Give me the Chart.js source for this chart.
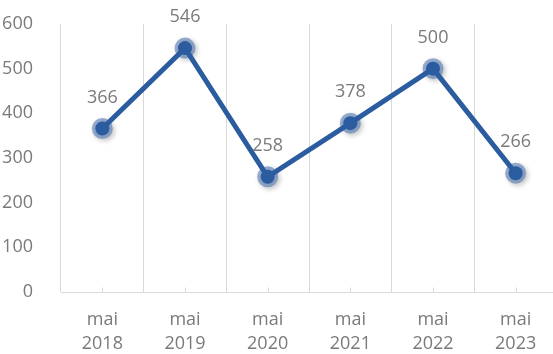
<!DOCTYPE html>
<html>
<head>
<meta charset="utf-8">
<script src="https://cdn.jsdelivr.net/npm/chart.js@4/dist/chart.umd.min.js"></script>
<style>
  html, body { margin: 0; padding: 0; background: #fff; overflow: hidden; }
  #wrap { width: 557px; height: 354px; }
</style>
</head>
<body>
<div id="wrap"><canvas id="c"></canvas></div>
<script>
const months = ['mai', 'mai', 'mai', 'mai', 'mai', 'mai'];
const years = ['2018', '2019', '2020', '2021', '2022', '2023'];
const values = [366, 546, 258, 378, 500, 266];
const yTicks = [0, 100, 200, 300, 400, 500, 600];

const labels = months.map((m, i) => [m, years[i]]);
const textColor = '#7a7a7a';
const gridColor = '#d9d9d9';
const lineColor = '#2a5c9f';
const fontFamily = 'Open Sans';
const fontSize = 18;

// Value labels above each point, and short ticks at category centres
const extras = {
  id: 'extras',
  afterDatasetsDraw(chart) {
    const ctx = chart.ctx;
    const x = chart.scales.x, y = chart.scales.y;
    ctx.save();
    ctx.strokeStyle = gridColor;
    ctx.lineWidth = 1;
    const base = Math.round(y.getPixelForValue(0)) + 0.5;
    values.forEach((v, i) => {
      const px = Math.round(x.getPixelForValue(i)) + 0.5;
      ctx.beginPath();
      ctx.moveTo(px, base);
      ctx.lineTo(px, base - 5);
      ctx.stroke();
    });
    ctx.fillStyle = textColor;
    ctx.font = fontSize + 'px "' + fontFamily + '"';
    ctx.textAlign = 'center';
    ctx.textBaseline = 'middle';
    values.forEach((v, i) => {
      ctx.fillText(String(v), x.getPixelForValue(i), y.getPixelForValue(v) - 31);
    });
    ctx.restore();
  }
};

// Soft shadow behind the markers
const shadow = {
  id: 'shadow',
  beforeDatasetDraw(chart, args) {
    if (args.index === 0) {
      const ctx = chart.ctx;
      ctx.save();
      ctx.shadowColor = 'rgba(0,0,0,0.35)';
      ctx.shadowBlur = 5;
      ctx.shadowOffsetX = 2;
      ctx.shadowOffsetY = 2;
    }
  },
  afterDatasetDraw(chart, args) {
    if (args.index === 0) chart.ctx.restore();
  }
};

new Chart(document.getElementById('c'), {
  type: 'line',
  data: {
    labels,
    datasets: [
      {
        data: values,
        showLine: false,
        pointRadius: 10.5,
        pointBackgroundColor: 'rgba(95,130,185,0.65)',
        pointBorderWidth: 0,
        clip: false,
        order: 2
      },
      {
        data: values,
        borderColor: lineColor,
        borderWidth: 5,
        pointRadius: 7,
        pointBackgroundColor: lineColor,
        pointBorderWidth: 0,
        tension: 0,
        clip: false,
        order: 1
      }
    ]
  },
  options: {
    responsive: true,
    maintainAspectRatio: false,
    animation: false,
    events: [],
    layout: { autoPadding: false, padding: { left: 0, right: 0, top: 24, bottom: 0 } },
    plugins: { legend: { display: false }, tooltip: { enabled: false } },
    scales: {
      x: {
        offset: true,
        grid: { display: true, offset: true, color: gridColor, lineWidth: 1, drawTicks: false },
        border: { display: true, color: gridColor, width: 1 },
        afterFit(scale) {
          scale.height = 62;
          scale.paddingLeft = 0;
          scale.paddingRight = 0;
        },
        ticks: {
          color: textColor,
          font: { family: fontFamily, size: fontSize, lineHeight: 1.38 },
          padding: 15,
          maxRotation: 0
        }
      },
      y: {
        min: 0,
        max: 600,
        afterBuildTicks(scale) { scale.ticks = yTicks.map(v => ({ value: v })); },
        afterFit(scale) {
          scale.width = 61;
          scale.paddingTop = 0;
          scale.paddingBottom = 0;
        },
        grid: { display: false },
        border: { display: false },
        ticks: {
          color: textColor,
          font: { family: fontFamily, size: fontSize },
          padding: 20
        }
      }
    }
  },
  plugins: [shadow, extras]
});
</script>
</body>
</html>
